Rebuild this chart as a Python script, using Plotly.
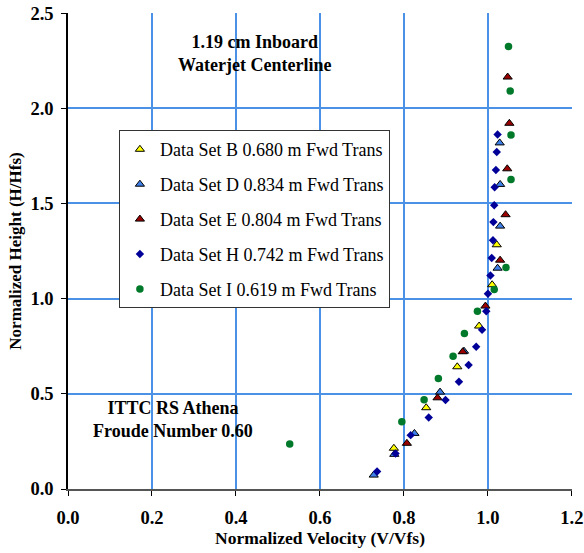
import plotly.graph_objects as go

# Normalized velocity (V/Vfs) and height (H/Hfs) for each data set
b_vel = [1.021, 1.010, 0.979, 0.927, 0.853, 0.776]
b_hgt = [1.283, 1.073, 0.856, 0.642, 0.427, 0.214]

d_vel = [1.028, 1.029, 1.029, 1.023, 0.943, 0.886, 0.825, 0.777, 0.728]
d_hgt = [1.818, 1.600, 1.381, 1.160, 0.724, 0.509, 0.292, 0.182, 0.073]

e_vel = [1.047, 1.051, 1.046, 1.042, 1.029, 0.994, 0.940, 0.880, 0.807]
e_hgt = [2.164, 1.921, 1.682, 1.441, 1.202, 0.961, 0.721, 0.479, 0.240]

h_vel = [1.023, 1.021, 1.019, 1.016, 1.015, 1.013, 1.012, 1.009, 1.006, 1.000,
         0.996, 0.986, 0.972, 0.954, 0.931, 0.899, 0.859, 0.816, 0.780, 0.736]
h_hgt = [1.862, 1.770, 1.676, 1.585, 1.491, 1.402, 1.307, 1.214, 1.121, 1.026,
         0.934, 0.836, 0.747, 0.651, 0.563, 0.467, 0.376, 0.283, 0.187, 0.092]

i_vel = [1.049, 1.053, 1.055, 1.055, 1.043, 1.015, 0.975, 0.944, 0.917, 0.882,
         0.848, 0.795, 0.528]
i_hgt = [2.325, 2.091, 1.860, 1.626, 1.163, 1.048, 0.934, 0.817, 0.698, 0.581,
         0.469, 0.353, 0.236]

series_names = [
    "Data Set B 0.680 m Fwd Trans",
    "Data Set D 0.834 m Fwd Trans",
    "Data Set E 0.804 m Fwd Trans",
    "Data Set H 0.742 m Fwd Trans",
    "Data Set I 0.619 m Fwd Trans",
]

x_ticks = [0.0, 0.2, 0.4, 0.6, 0.8, 1.0, 1.2]
y_ticks = [0.0, 0.5, 1.0, 1.5, 2.0, 2.5]

FONT = "Liberation Serif"
GRID = "#4b92e6"

series = [
    (b_vel, b_hgt, "triangle-up", 8, "#ffff00", dict(color="black", width=1)),
    (d_vel, d_hgt, "triangle-up", 8, "#3f7fe8", dict(color="black", width=1)),
    (e_vel, e_hgt, "triangle-up", 8, "#990000", dict(color="black", width=1)),
    (h_vel, h_hgt, "diamond", 6.5, "#000099", dict(color="#000099", width=0)),
    (i_vel, i_hgt, "circle", 7.5, "#007a2a", dict(color="#007a2a", width=0)),
]

fig = go.Figure()
for name, (xs, ys, sym, size, color, line) in zip(series_names, series):
    fig.add_trace(go.Scatter(
        x=xs, y=ys, mode="markers", name=name, legendgroup=name,
        marker=dict(symbol=sym, size=size, color=color, line=line),
        cliponaxis=False,
    ))

fig.add_annotation(
    x=0.445, y=2.29, xref="x", yref="y", showarrow=False,
    text="<b>1.19 cm Inboard<br>Waterjet Centerline</b>",
    font=dict(family=FONT, size=18, color="black"), align="center",
)
fig.add_annotation(
    x=0.249, y=0.367, xref="x", yref="y", showarrow=False,
    text="<b>ITTC RS Athena<br>Froude Number 0.60</b>",
    font=dict(family=FONT, size=18, color="black"), align="center",
)

fig.update_layout(
    width=584, height=553,
    margin=dict(l=68, r=12, t=13, b=64),
    paper_bgcolor="white", plot_bgcolor="white",
    font=dict(family=FONT, color="black"),
    showlegend=True,
    legend=dict(
        x=0.101, y=0.754, xanchor="left", yanchor="top",
        bgcolor="white", bordercolor="#333333", borderwidth=1,
        font=dict(family=FONT, size=18, color="black"),
        tracegroupgap=8.5, itemwidth=30,
    ),
    xaxis=dict(
        range=[0, 1.2002], tickvals=x_ticks,
        ticktext=[f"<b>{v:.1f}</b>" for v in x_ticks],
        showgrid=True, gridcolor=GRID, gridwidth=1.5, zeroline=False,
        showline=True, linecolor="#555555", linewidth=1.5,
        ticks="outside", ticklen=5, tickcolor="black",
        ticklabelstandoff=6, automargin=False,
        tickfont=dict(family=FONT, size=18.5, color="black"),
        title=dict(text="<b>Normalized Velocity (V/Vfs)</b>",
                   font=dict(family=FONT, size=17.5, color="black"), standoff=4),
    ),
    yaxis=dict(
        range=[0, 2.5005], tickvals=y_ticks,
        ticktext=[f"<b>{v:.1f}</b>" for v in y_ticks],
        showgrid=True, gridcolor=GRID, gridwidth=1.5, zeroline=False,
        showline=True, linecolor="black", linewidth=1.5,
        ticks="outside", ticklen=5, tickcolor="black",
        ticklabelstandoff=4, automargin=False,
        tickfont=dict(family=FONT, size=18.5, color="black"),
        title=dict(text="<b>Normalized Height (H/Hfs)</b>",
                   font=dict(family=FONT, size=17, color="black"), standoff=4),
    ),
)

fig.write_html("out.html")
